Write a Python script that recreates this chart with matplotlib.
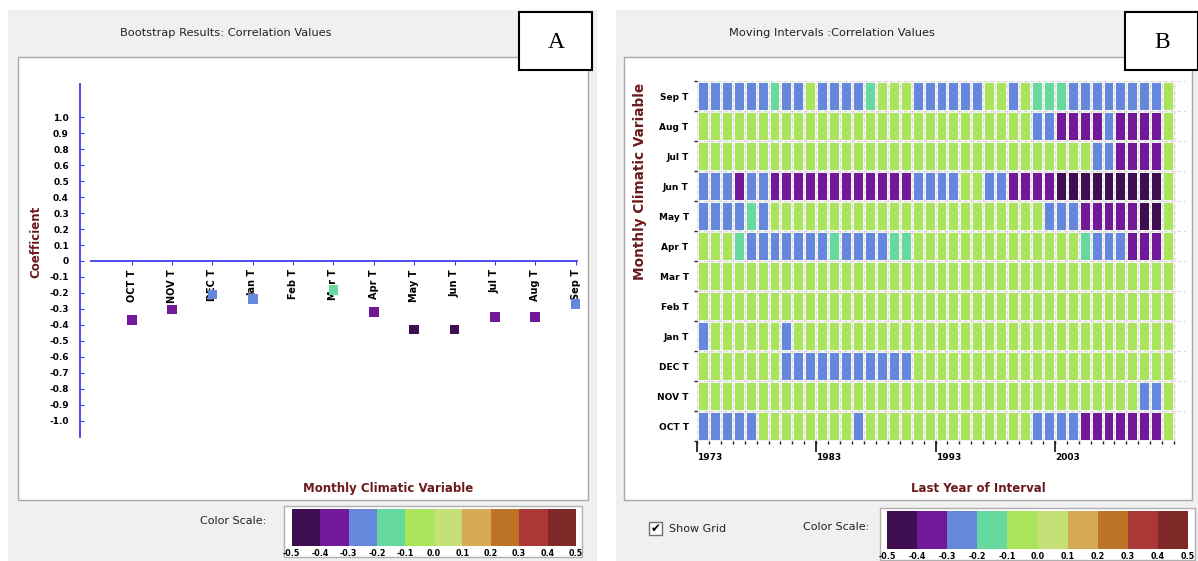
import numpy as np
import matplotlib
matplotlib.use('Agg')
import matplotlib.pyplot as plt
from matplotlib.colors import ListedColormap, BoundaryNorm
from matplotlib.patches import Rectangle
from matplotlib.cm import ScalarMappable

W, H = 1198, 561

# colour scale shared by both panels
scale_colors = ['#3f0e51', '#72199a', '#6688dc', '#66d99f', '#a9e45a',
                '#c6e078', '#d6a953', '#bd7427', '#ab3737', '#7f2828']
scale_bounds = [-0.5, -0.4, -0.3, -0.2, -0.1, 0.0, 0.1, 0.2, 0.3, 0.4, 0.5]
scale_labels = ['-0.5', '-0.4', '-0.3', '-0.2', '-0.1', '0.0',
                '0.1', '0.2', '0.3', '0.4', '0.5']

# panel A : bootstrap correlation per month
months_a = ['OCT T', 'NOV T', 'DEC T', 'Jan T', 'Feb T', 'Mar T',
            'Apr T', 'May T', 'Jun T', 'Jul T', 'Aug T', 'Sep T']
coef_a = [-0.37, -0.305, -0.21, -0.24, np.nan, -0.18,
          -0.32, -0.43, -0.43, -0.35, -0.35, -0.27]
ytick_vals = [0.9, 0.8, 0.7, 0.6, 0.5, 0.4, 0.3, 0.2, 0.1, 0.0,
              -0.1, -0.2, -0.3, -0.4, -0.5, -0.6, -0.7, -0.8, -0.9, -1.0]
ytick_text = ['1.0', '0.9', '0.8', '0.6', '0.5', '0.4', '0.3', '0.2', '0.1', '0',
              '-0.1', '-0.2', '-0.3', '-0.4', '-0.5', '-0.6', '-0.7', '-0.8', '-0.9', '-1.0']

# panel B : moving interval correlations, one string per row (top row first)
# D=-0.45  P=-0.35  B=-0.25  T=-0.15  G=-0.05
rows_b = ['Sep T', 'Aug T', 'Jul T', 'Jun T', 'May T', 'Apr T',
          'Mar T', 'Feb T', 'Jan T', 'DEC T', 'NOV T', 'OCT T']
cells_b = [
    'BBBBBBTBBG' 'BBBBTGGGBB' 'BBBBGGBGTT' 'TBBBBBBBBG',
    'GGGGGGGGGG' 'GGGGGGGGGG' 'GGGGGGGGBB' 'PPPPBPPPPG',
    'GGGGGGGGGG' 'GGGGGGGGGG' 'GGGGGGGGGG' 'GGGBBPPPPG',
    'BBBPBBPPPP' 'PPPPPPPPBB' 'BBGGBBPPPP' 'DDDDDDDDDG',
    'BBBBTBGGGG' 'GGGGGGGGGG' 'GGGGGGGGGB' 'BBPPPPPDDG',
    'GGGTBBBBBB' 'BTBBBBTTGG' 'GGGGGGGGGG' 'GGTBBBPPPG',
    'GGGGGGGGGG' 'GGGGGGGGGG' 'GGGGGGGGGG' 'GGGGGGGGGG',
    'GGGGGGGGGG' 'GGGGGGGGGG' 'GGGGGGGGGG' 'GGGGGGGGGG',
    'BGGGGGGBGG' 'GGGGGGGGGG' 'GGGGGGGGGG' 'GGGGGGGGGG',
    'GGGGGGGBBB' 'BBBBBBBBGG' 'GGGGGGGGGG' 'GGGGGGGGGG',
    'GGGGGGGGGG' 'GGGGGGGGGG' 'GGGGGGGGGG' 'GGGGGGGBBG',
    'BBBBBGGGGG' 'GGGBGGGGGG' 'GGGGGGGGBB' 'BBPPPPPPPG',
]
code_value = {'D': -0.45, 'P': -0.35, 'B': -0.25, 'T': -0.15, 'G': -0.05}
years_b = np.arange(1973, 2013)
year_ticks = [1973, 1983, 1993, 2003]

cmap = ListedColormap(scale_colors)
norm = BoundaryNorm(scale_bounds, cmap.N)
maroon = '#6b1b1b'
axis_blue = '#3c3cf0'

fig = plt.figure(figsize=(W / 100, H / 100), dpi=100)

bg = fig.add_axes([0, 0, 1, 1])
bg.set_xlim(0, W)
bg.set_ylim(H, 0)
bg.axis('off')


def px_axes(x0, y0, x1, y1):
    return fig.add_axes([x0 / W, 1 - y1 / H, (x1 - x0) / W, (y1 - y0) / H])


# window backgrounds
for gx, gw, wx, ww, bx, title, tx, letter in [
        (8, 589, 18, 570, 519, 'Bootstrap Results: Correlation Values', 226, 'A'),
        (616, 582, 624, 568, 1125, 'Moving Intervals :Correlation Values', 832, 'B')]:
    bg.add_patch(Rectangle((gx, 10), gw, 551, fc='#f0f0f0', ec='none'))
    bg.add_patch(Rectangle((wx, 57), ww, 443, fc='white', ec='#a8a8a8', lw=1))
    bg.text(tx, 33, title, ha='center', va='center', fontsize=8.2, color='#222222')
    bg.add_patch(Rectangle((bx, 12), 73, 58, fc='white', ec='black', lw=1.5, zorder=5))
    bg.text(bx + 37, 42, letter, ha='center', va='center', fontsize=17,
            family='Liberation Serif', zorder=6)

# ---- panel A ----
ax = px_axes(80, 84, 590, 437)
ax.set_facecolor('none')
ax.set_ylim((261 - 437) / 159.5, (261 - 84) / 159.5)
ax.set_xlim((80 - 131.7) / 40.35, (590 - 131.7) / 40.35)
idx = np.arange(len(months_a))
ax.scatter(idx, coef_a, c=coef_a, cmap=cmap, norm=norm, marker='s', s=48,
           linewidths=0, zorder=3)
for s in ['top', 'right']:
    ax.spines[s].set_visible(False)
ax.spines['left'].set_color(axis_blue)
ax.spines['left'].set_linewidth(1.3)
ax.spines['bottom'].set_position(('data', 0))
ax.spines['bottom'].set_bounds(-1.01, 11.04)
ax.spines['bottom'].set_color(axis_blue)
ax.spines['bottom'].set_linewidth(1.3)
ax.set_xticks(idx)
ax.set_xticklabels(months_a, rotation=90, fontsize=7, fontweight='bold')
ax.tick_params(axis='x', direction='out', length=3, color=axis_blue, pad=3)
ax.set_yticks(ytick_vals)
ax.set_yticklabels(ytick_text, fontsize=6.5, fontweight='bold')
ax.tick_params(axis='y', direction='in', length=3, color=axis_blue, pad=8)

bg.text(36, 242, 'Coefficient', rotation=90, ha='center', va='center',
        fontsize=8.5, fontweight='bold', color=maroon)
bg.text(388, 488, 'Monthly Climatic Variable', ha='center', va='center',
        fontsize=8.5, fontweight='bold', color=maroon)

# ---- panel B ----
bx_ = px_axes(697, 81, 1186, 441)
Z = np.array([[code_value[c] for c in row] for row in cells_b[::-1]])
year_edges = np.append(years_b, years_b[-1] + 1)
row_edges = np.arange(len(rows_b) + 1)
bx_.pcolormesh(year_edges, row_edges, Z, cmap=cmap, norm=norm,
               edgecolors='#f4f4f4', linewidth=1.0)
bx_.set_xlim(1973, 2014)
bx_.set_ylim(0, len(rows_b))
for s in bx_.spines.values():
    s.set_visible(False)
bx_.xaxis.remove_overlapping_locs = False
bx_.set_xticks(year_ticks)
bx_.set_xticklabels([str(y) for y in year_ticks], fontsize=6.5, fontweight='bold')
for lbl in bx_.get_xticklabels():
    lbl.set_ha('left')
bx_.set_xticks(year_edges, minor=True)
bx_.tick_params(axis='x', which='major', length=8, width=1.3, color='#222222', pad=1)
bx_.tick_params(axis='x', which='minor', length=2.5, width=1, color='#222222')
bx_.set_yticks(np.arange(len(rows_b)) + 0.5)
bx_.set_yticklabels(rows_b[::-1], fontsize=6.5, fontweight='bold')
bx_.set_yticks(row_edges, minor=True)
bx_.tick_params(axis='y', which='major', length=0, pad=6)
bx_.tick_params(axis='y', which='minor', length=2, width=1, color='#222222')
bx_.grid(which='minor', color='#d8d8d8', lw=0.8, dashes=(3, 3))
bx_.set_axisbelow(False)

bg.text(640, 181, 'Monthly Climatic Variable', rotation=90, ha='center', va='center',
        fontsize=9.8, fontweight='bold', color=maroon)
bg.text(978, 488, 'Last Year of Interval', ha='center', va='center',
        fontsize=8.5, fontweight='bold', color=maroon)

# show grid checkbox
bg.add_patch(Rectangle((649, 522), 13, 13, fc='white', ec='#707070', lw=1))
bg.text(655.5, 528.5, '\u2714', ha='center', va='center', fontsize=8.5)
bg.text(669, 529, 'Show Grid', ha='left', va='center', fontsize=8, color='#222222')

# ---- colour scales ----
for lx, fx0, fx1, cx0, cx1, cy0, cy1, ly in [
        (200, 284, 582, 291.7, 576, 509, 546, 521),
        (803, 880, 1195, 887, 1188, 511, 549, 527)]:
    bg.text(lx, ly, 'Color Scale:', ha='left', va='center', fontsize=8, color='#222222')
    bg.add_patch(Rectangle((fx0, cy0 - 3), fx1 - fx0, cy1 - cy0 + 14,
                           fc='white', ec='#b0b0b0', lw=1))
    cax = px_axes(cx0, cy0, cx1, cy1)
    cb = fig.colorbar(ScalarMappable(norm=norm, cmap=cmap), cax=cax,
                      orientation='horizontal', ticks=scale_bounds)
    cb.outline.set_visible(False)
    cax.set_xticklabels(scale_labels, fontsize=5.8, fontweight='bold')
    cax.tick_params(length=0, pad=2)

fig.savefig('out.png', dpi=100)
